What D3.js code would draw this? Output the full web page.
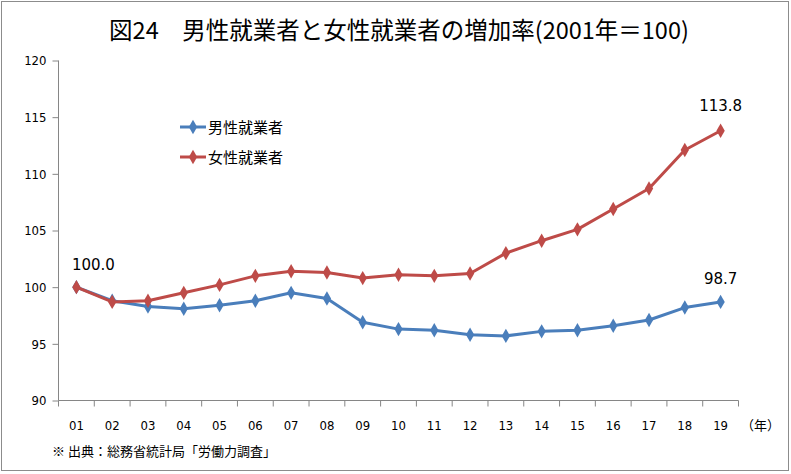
<!DOCTYPE html>
<html>
<head>
<meta charset="utf-8">
<script src="https://d3js.org/d3.v7.min.js"></script>
<style>
  body { margin: 0; background: #fff; }
  svg text { font-family: "DejaVu Sans", sans-serif; }
</style>
</head>
<body>
<svg id="chart" width="791" height="474"></svg>
<script>
// data
var years = ["01","02","03","04","05","06","07","08","09","10","11","12","13","14","15","16","17","18","19"];
var male = [100.0, 98.8, 98.3, 98.1, 98.4, 98.8, 99.5, 99.0, 96.9, 96.3, 96.2, 95.8, 95.7, 96.1, 96.2, 96.6, 97.1, 98.2, 98.7];
var female = [100.0, 98.7, 98.8, 99.5, 100.2, 101.0, 101.4, 101.3, 100.8, 101.1, 101.0, 101.2, 103.0, 104.1, 105.1, 106.9, 108.7, 112.1, 113.8];
var yTicks = [90, 95, 100, 105, 110, 115, 120];
var seriesNames = ["男性就業者", "女性就業者"];
var colors = ["#4a7ebb", "#be4b48"];

var svg = d3.select("#chart");

// outer frame
svg.append("rect")
    .attr("x", 1.5).attr("y", 1.5)
    .attr("width", 787).attr("height", 469)
    .attr("fill", "none").attr("stroke", "#8c8c8c").attr("stroke-width", 1);

svg.append("text")
    .attr("x", 399).attr("y", 39)
    .attr("text-anchor", "middle")
    .style("font-family", "'Noto Sans CJK JP'")
    .style("font-size", "23.5px")
    .text("図24　男性就業者と女性就業者の増加率(2001年＝100)");

var x = d3.scaleBand().domain(years).range([58.5, 738.5]);
var y = d3.scaleLinear().domain([90, 120]).range([400.5, 60.5]);

// y axis
var yAxis = svg.append("g")
    .attr("transform", "translate(58.5,0)")
    .call(d3.axisLeft(y).tickValues(yTicks).tickSize(6).tickPadding(6));
yAxis.select(".domain").attr("stroke", "#868686").attr("d", "M0," + y(120) + "V" + y(90));
yAxis.selectAll(".tick line").attr("stroke", "#868686").attr("x1", -6).attr("x2", 0);
yAxis.selectAll("text").style("font-size", "13px").attr("fill", "#000")
    .style("font-family", "'DejaVu Sans Condensed', 'DejaVu Sans'");

// x axis with ticks at band edges
var xg = svg.append("g").attr("transform", "translate(0,400.5)");
xg.append("line").attr("x1", 58.5).attr("x2", 738.5).attr("stroke", "#868686");
xg.selectAll("line.tk").data(years.concat(["end"])).enter().append("line")
    .attr("class", "tk")
    .attr("x1", function (d, i) { return i < years.length ? x(d) : x.range()[1]; })
    .attr("x2", function (d, i) { return i < years.length ? x(d) : x.range()[1]; })
    .attr("y1", 0).attr("y2", 6)
    .attr("stroke", "#868686");
xg.selectAll("text.lb").data(years).enter().append("text")
    .attr("class", "lb")
    .attr("x", function (d) { return x(d) + x.bandwidth() / 2; })
    .attr("y", 29)
    .attr("text-anchor", "middle")
    .style("font-size", "13px")
    .style("font-family", "'DejaVu Sans Condensed', 'DejaVu Sans'")
    .text(function (d) { return d; });
xg.append("text")
    .attr("x", 741).attr("y", 29)
    .style("font-size", "13px")
    .style("font-family", "'Noto Sans CJK JP'")
    .text("（年）");

var cx = function (d, i) { return x(years[i]) + x.bandwidth() / 2; };
var line = d3.line().x(cx).y(function (d) { return y(d); });
var diamond = d3.symbol().type(d3.symbolDiamond).size(60);

[male, female].forEach(function (s, k) {
    svg.append("path").datum(s)
        .attr("d", line)
        .attr("fill", "none")
        .attr("stroke", colors[k])
        .attr("stroke-width", 3)
        .attr("stroke-linejoin", "round");
    svg.append("g").selectAll("path").data(s).enter().append("path")
        .attr("d", diamond)
        .attr("transform", function (d, i) { return "translate(" + cx(d, i) + "," + y(d) + ")"; })
        .attr("fill", colors[k]);
});

// value labels
var lbl = [
    { v: male[0], i: 0, dy: -17, t: "100.0" },
    { v: female[18], i: 18, dy: -20, t: "113.8" },
    { v: male[18], i: 18, dy: -18, t: "98.7" }
];
svg.selectAll("text.val").data(lbl).enter().append("text")
    .attr("class", "val")
    .attr("x", function (d) { return cx(null, d.i) + (d.i === 0 ? 17 : 0); })
    .attr("y", function (d) { return y(d.v) + d.dy; })
    .attr("text-anchor", "middle")
    .style("font-size", "15px")
    .text(function (d) { return d.t; });

// legend
var lg = svg.append("g").attr("transform", "translate(180,127)");
seriesNames.forEach(function (n, k) {
    var g = lg.append("g").attr("transform", "translate(0," + (k * 30) + ")");
    g.append("line").attr("x1", 0).attr("x2", 26).attr("stroke", colors[k]).attr("stroke-width", 3);
    g.append("path").attr("d", diamond).attr("transform", "translate(13,0)").attr("fill", colors[k]);
    g.append("text").attr("x", 28).attr("y", 5.5)
        .style("font-family", "'Noto Sans CJK JP'")
        .style("font-size", "15px")
        .text(n);
});

svg.append("text")
    .attr("x", 52).attr("y", 456)
    .style("font-family", "'Noto Sans CJK JP'")
    .style("font-size", "13px")
    .text("※ 出典：総務省統計局「労働力調査」");
</script>
</body>
</html>
